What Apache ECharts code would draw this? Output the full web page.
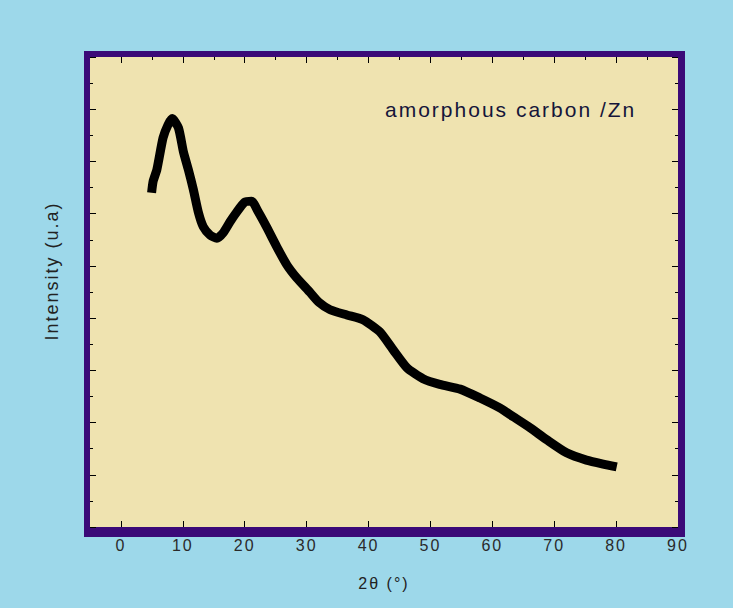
<!DOCTYPE html>
<html>
<head>
<meta charset="utf-8">
<script src="https://cdn.jsdelivr.net/npm/echarts@6.0.0/dist/echarts.min.js"></script>
<style>
html, body { margin: 0; padding: 0; background: #9dd8ea; }
#chart { width: 733px; height: 608px; }
#chart text { letter-spacing: 2px; }
</style>
</head>
<body>
<div id="chart"></div>
<script>
// XRD pattern
var twoTheta = [4.95, 5.2, 5.8, 6.8, 7.6, 8.3, 9.3, 10.1, 10.9, 11.7, 12.5, 13.3, 14.4, 15.5, 16.5,
  17.6, 18.7, 20.0, 21.1, 22.2, 23.5, 25.2, 26.8, 28.4, 30.5, 32.0, 33.8, 36.5, 39.1, 41.8,
  44.0, 46.2, 48.8, 51.5, 54.8, 58.0, 61.2, 63.4, 66.1, 68.8, 72.0, 75.2, 78.5, 80.1];
var intensity = [6.40, 6.62, 6.84, 7.45, 7.70, 7.82, 7.64, 7.18, 6.84, 6.46, 6.03, 5.75, 5.59, 5.53, 5.63,
  5.84, 6.03, 6.22, 6.24, 6.03, 5.75, 5.36, 5.02, 4.77, 4.50, 4.30, 4.16, 4.06, 3.97, 3.74,
  3.39, 3.05, 2.84, 2.73, 2.64, 2.47, 2.28, 2.11, 1.90, 1.67, 1.42, 1.28, 1.19, 1.15];

var xLabels = [0, 10, 20, 30, 40, 50, 60, 70, 80, 90];
var xMajorTicks = [0, 10, 20, 30, 40, 50, 60, 70, 80];
var xMinorTicks = [5, 15, 25, 35, 45, 55, 65, 75, 85];

var font = '"Liberation Sans", Arial, sans-serif';

var chart = echarts.init(document.getElementById('chart'), null, { renderer: 'svg' });

var points = [];
for (var i = 0; i < twoTheta.length; i++) {
  points.push([twoTheta[i], intensity[i]]);
}

function xAxisBase(pos) {
  return {
    type: 'value',
    position: pos,
    min: -5,
    max: 90,
    axisLine: { show: false, onZero: false },
    splitLine: { show: false },
    axisLabel: { show: false },
    axisTick: { show: true, inside: true, length: 6, lineStyle: { color: '#000', width: 1 } }
  };
}

var xBottom = xAxisBase('bottom');
xBottom.axisTick.customValues = xMajorTicks;
xBottom.axisLabel = {
  show: true,
  customValues: xLabels,
  margin: 10,
  fontSize: 16,
  fontFamily: font,
  color: '#2a2a2a'
};
xBottom.name = '2θ (°)';
xBottom.nameLocation = 'middle';
xBottom.nameGap = 48;
xBottom.nameTextStyle = { fontSize: 16, fontFamily: font, color: '#222' };

var xTop = xAxisBase('top');
xTop.axisTick.customValues = xMajorTicks;

var xTopMinor = xAxisBase('top');
xTopMinor.axisTick.customValues = xMinorTicks;
xTopMinor.axisTick.length = 3;

function yAxisBase(pos) {
  return {
    type: 'value',
    position: pos,
    min: 0,
    max: 9,
    interval: 1,
    axisLine: { show: false, onZero: false },
    splitLine: { show: false },
    axisLabel: { show: false },
    axisTick: { show: true, inside: true, length: 6, lineStyle: { color: '#000', width: 1 } },
    minorTick: { show: true, splitNumber: 2, length: 3, lineStyle: { color: '#000', width: 1 } }
  };
}

var option = {
  backgroundColor: '#9dd8ea',
  animation: false,
  grid: { left: 90, top: 57, width: 588, height: 470 },
  xAxis: [xBottom, xTop, xTopMinor],
  yAxis: [yAxisBase('left'), yAxisBase('right')],
  graphic: [
    { type: 'rect', z: -10, shape: { x: 84, y: 51, width: 601, height: 486 }, style: { fill: '#3b0a78' } },
    { type: 'rect', z: -9, shape: { x: 90, y: 57, width: 588, height: 470 }, style: { fill: '#efe3b0' } },
    {
      type: 'text', z: 10, left: 385, top: 99,
      style: { text: 'amorphous carbon /Zn', font: '21px ' + font, fill: '#15153a' }
    },
    {
      type: 'text', z: 10, x: 52, y: 271, rotation: Math.PI / 2,
      style: { text: 'Intensity (u.a)', font: '18px ' + font, fill: '#222', align: 'center', verticalAlign: 'middle' }
    }
  ],
  series: [{
    type: 'line',
    xAxisIndex: 0,
    yAxisIndex: 0,
    data: points,
    showSymbol: false,
    smooth: 0.2,
    lineStyle: { color: '#000', width: 9, join: 'round', cap: 'butt' },
    z: 5
  }]
};

chart.setOption(option);
</script>
</body>
</html>
